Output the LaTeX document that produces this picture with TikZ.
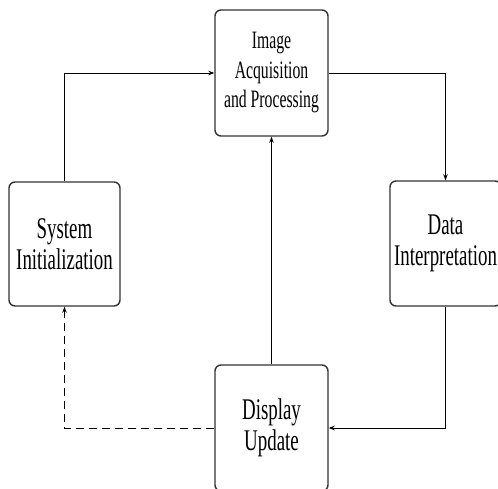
\documentclass[tikz,border=0pt]{standalone}
\usepackage{fontspec}
\setmainfont[FakeStretch=0.63]{Liberation Serif}
\usetikzlibrary{arrows.meta}
\begin{document}
\begin{tikzpicture}[x=1pt,y=1pt,
  blk/.style={draw=black!80, line width=1.4pt, rounded corners=6pt, fill=white,
    align=center, inner sep=0pt},
  conn/.style={line width=0.9pt, -{Stealth[length=6pt,width=4.5pt]}},
  big/.style={font=\fontsize{30}{30.5}\selectfont},
  small/.style={font=\fontsize{25}{29.5}\selectfont}]
\useasboundingbox (0,0) rectangle (498,-488);
\node[blk, small, minimum width=113pt, minimum height=126pt] (img) at (271.5,-73) {Image\\Acquisition\\and Processing};
\node[blk, big, minimum width=111pt, minimum height=124pt] (sys) at (64.5,-244) {System\\Initialization};
\node[blk, big, minimum width=111pt, minimum height=125pt] (data) at (445.5,-243.5) {Data\\Interpretation};
\node[blk, big, minimum width=113pt, minimum height=126pt] (disp) at (271.5,-428) {Display\\Update};
\draw[conn] (sys.north) |- (img.west);
\draw[conn] (img.east) -| (data.north);
\draw[conn] (data.south) |- (disp.east);
\draw[conn] (disp.north) -- (img.south);
\draw[conn, dash pattern=on 8pt off 5pt] (disp.west) -| (sys.south);
\end{tikzpicture}
\end{document}
